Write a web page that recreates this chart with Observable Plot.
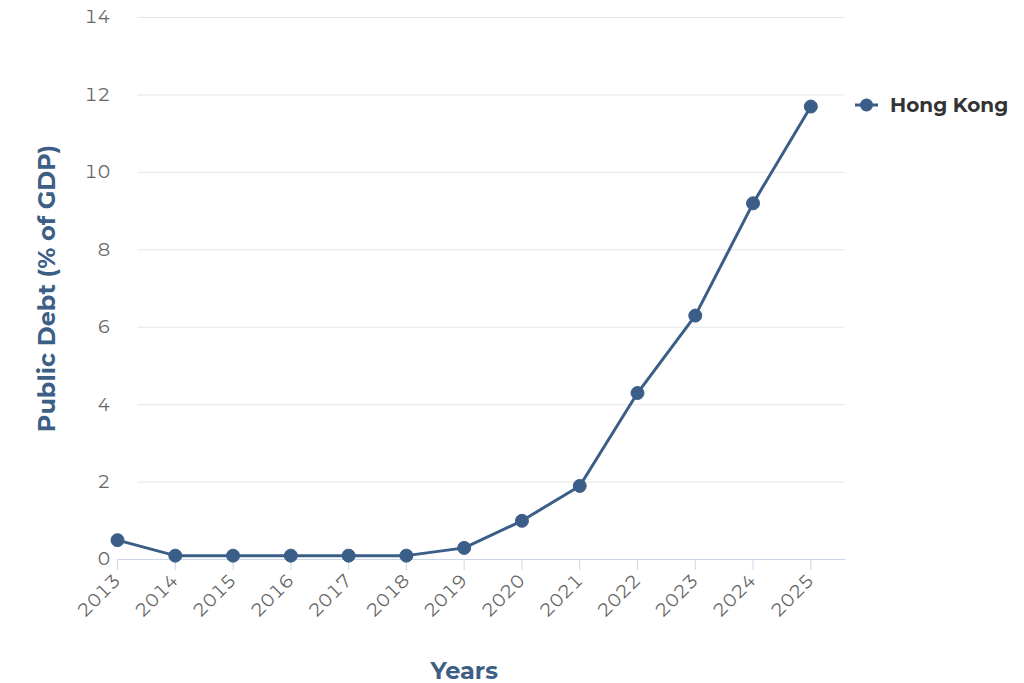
<!DOCTYPE html>
<html>
<head>
<meta charset="utf-8">
<script src="https://cdn.jsdelivr.net/npm/d3@7"></script>
<script src="https://cdn.jsdelivr.net/npm/@observablehq/plot@0.6"></script>
<style>
  html, body { margin: 0; padding: 0; background: #fff; }
  #chart svg { display: block; }
</style>
</head>
<body>
<div id="chart"></div>
<script>
const years = [2013, 2014, 2015, 2016, 2017, 2018, 2019, 2020, 2021, 2022, 2023, 2024, 2025];
const debt = [0.5, 0.1, 0.1, 0.1, 0.1, 0.1, 0.3, 1.0, 1.9, 4.3, 6.3, 9.2, 11.7];
const yTicks = [0, 2, 4, 6, 8, 10, 12, 14];
const seriesName = "Hong Kong";
const xTitle = "Years";
const yTitle = "Public Debt (% of GDP)";

const data = years.map((y, i) => ({ year: y, value: debt[i] }));
const color = "#3b5e88";
const font = "Montserrat, 'Open Sans', 'Noto Sans', sans-serif";

const chart = Plot.plot({
  width: 1024,
  height: 683,
  marginLeft: 117,
  marginRight: 179,
  marginTop: 17,
  marginBottom: 124,
  style: { fontFamily: font, background: "#fff" },
  x: { type: "linear", domain: [2013, 2025.6] },
  y: { type: "linear", domain: [0, 14] },
  marks: [
    Plot.ruleY(yTicks.filter(d => d > 0), { x1: 2013.35, x2: 2025.6, stroke: "#e6e6e6", strokeWidth: 1 }),
    Plot.ruleY([0], { x1: 2013, x2: 2025.6, stroke: "#ccd6eb", strokeWidth: 1 }),
    Plot.axisY({ ticks: yTicks, tickSize: 0, tickPadding: 7, label: null, fontSize: 18.5, fill: "#666", tickFormat: d => String(d) }),
    Plot.axisX({ ticks: years, tickSize: 11, stroke: "#ccd6eb", tickRotate: -45, tickPadding: 7, label: null, fontSize: 18.5, fill: "#666", tickFormat: d => String(d) }),
    Plot.line(data, { x: "year", y: "value", stroke: color, strokeWidth: 3 }),
    Plot.dot(data, { x: "year", y: "value", r: 6.5, fill: color, stroke: color, strokeWidth: 1 }),
    Plot.text([xTitle], { x: 2019, frameAnchor: "bottom", dy: 119, text: d => d, fontSize: 24, fontWeight: "bold", fill: "#3d5f86" }),
    Plot.text([yTitle], { frameAnchor: "left", textAnchor: "middle", dx: -70, rotate: -90, text: d => d, fontSize: 24, fontWeight: "bold", fill: "#3d5f86" })
  ]
});

// Legend, placed relative to the plot frame's right edge
const svg = d3.select(chart);
const frameRight = 1024 - 179;
const legY = 17 + 88;
const g = svg.append("g").attr("font-family", font).attr("text-anchor", "start");
g.append("line").attr("x1", frameRight + 10).attr("x2", frameRight + 33)
  .attr("y1", legY).attr("y2", legY).attr("stroke", color).attr("stroke-width", 3);
g.append("circle").attr("cx", frameRight + 21.5).attr("cy", legY).attr("r", 6.5).attr("fill", color);
g.append("text").attr("x", frameRight + 45).attr("y", legY).attr("dy", "0.35em")
  .attr("font-size", 20).attr("font-weight", "bold").attr("fill", "#333").text(seriesName);

document.getElementById("chart").appendChild(chart);
</script>
</body>
</html>
